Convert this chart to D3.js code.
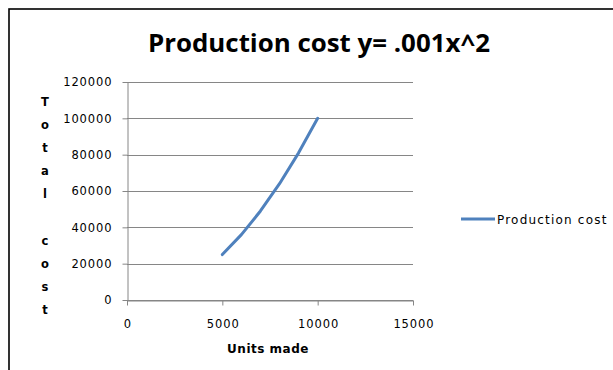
<!DOCTYPE html>
<html>
<head>
<meta charset="utf-8">
<script src="https://cdn.jsdelivr.net/npm/d3@7"></script>
<style>
  html, body { margin: 0; padding: 0; background: #fff; }
  svg { display: block; }
</style>
</head>
<body>
<svg id="chart" width="613" height="370"></svg>
<script>
// ---- data ----
const titleText = "Production cost y= .001x^2";
const seriesName = "Production cost";
const xLabel = "Units made";
const yLabel = "Total cost";
const unitsMade = [5000, 6000, 7000, 8000, 9000, 10000];
const totalCost = [25000, 36000, 49000, 64000, 81000, 100000];
const xTicks = [0, 5000, 10000, 15000];
const yTicks = [0, 20000, 40000, 60000, 80000, 100000, 120000];

// ---- layout ----
const svg = d3.select("#chart");
const plot = { left: 127, right: 413, top: 82, bottom: 300 };
const lineColor = "#4F81BD";
const axisColor = "#868686";

const x = d3.scaleLinear().domain([0, 15000]).range([plot.left, plot.right]);
const y = d3.scaleLinear().domain([0, 120000]).range([plot.bottom, plot.top]);

// chart border
svg.append("rect")
  .attr("x", 9).attr("y", 9).attr("width", 640).attr("height", 420)
  .attr("fill", "#fff").attr("stroke", "#000").attr("stroke-width", 1.6);

// title
svg.append("text")
  .attr("x", 319).attr("y", 52)
  .attr("text-anchor", "middle")
  .attr("font-family", "'Open Sans', sans-serif")
  .attr("font-weight", "bold")
  .attr("font-size", 25)
  .attr("textLength", 342)
  .attr("lengthAdjust", "spacingAndGlyphs")
  .attr("fill", "#000")
  .text(titleText);

// gridlines
svg.append("g").selectAll("line")
  .data(yTicks)
  .join("line")
  .attr("x1", plot.left).attr("x2", plot.right)
  .attr("y1", d => Math.round(y(d)) + 0.5).attr("y2", d => Math.round(y(d)) + 0.5)
  .attr("stroke", axisColor).attr("stroke-width", 1);

// y axis
const yAxis = svg.append("g")
  .attr("transform", `translate(${plot.left + 0.5},0)`)
  .call(d3.axisLeft(y).tickValues(yTicks).tickFormat(d3.format("d")).tickSize(5).tickSizeOuter(0).tickPadding(10));

// x axis
const xAxis = svg.append("g")
  .attr("transform", `translate(0,${plot.bottom + 0.5})`)
  .call(d3.axisBottom(x).tickValues(xTicks).tickFormat(d3.format("d")).tickSize(5).tickSizeOuter(0).tickPadding(14));

[yAxis, xAxis].forEach(g => {
  g.select(".domain").attr("stroke", axisColor);
  g.selectAll(".tick line").attr("stroke", axisColor);
  g.selectAll(".tick text")
    .attr("font-family", "'DejaVu Sans', sans-serif")
    .attr("font-size", 11.5)
    .attr("letter-spacing", "0.9px")
    .attr("fill", "#000");
});
xAxis.selectAll(".tick text").attr("dx", "0.45px");

// series line
const line = d3.line()
  .x((d, i) => x(unitsMade[i]))
  .y(d => y(d));
svg.append("path")
  .datum(totalCost)
  .attr("d", line)
  .attr("fill", "none")
  .attr("stroke", lineColor)
  .attr("stroke-width", 3)
  .attr("stroke-linecap", "round")
  .attr("stroke-linejoin", "round");

// x axis title
svg.append("text")
  .attr("x", 268).attr("y", 353)
  .attr("text-anchor", "middle")
  .attr("font-family", "'DejaVu Sans', sans-serif")
  .attr("font-weight", "bold")
  .attr("font-size", 12)
  .attr("letter-spacing", "0.5px")
  .attr("fill", "#000")
  .text(xLabel);

// y axis title: stacked letters
const yChars = Array.from(yLabel);
svg.append("g").selectAll("text")
  .data(yChars)
  .join("text")
  .attr("x", 45)
  .attr("y", (d, i) => 106 + i * 23.1)
  .attr("text-anchor", "middle")
  .attr("font-family", "'DejaVu Sans', sans-serif")
  .attr("font-weight", "bold")
  .attr("font-size", 11.5)
  .attr("fill", "#000")
  .text(d => d);

// legend
const legend = svg.append("g");
legend.append("line")
  .attr("x1", 461).attr("x2", 495).attr("y1", 219).attr("y2", 219)
  .attr("stroke", lineColor).attr("stroke-width", 3);
legend.append("text")
  .attr("x", 497).attr("y", 224)
  .attr("font-family", "'DejaVu Sans', sans-serif")
  .attr("font-size", 12)
  .attr("letter-spacing", "1.2px")
  .attr("fill", "#000")
  .text(seriesName);
</script>
</body>
</html>
